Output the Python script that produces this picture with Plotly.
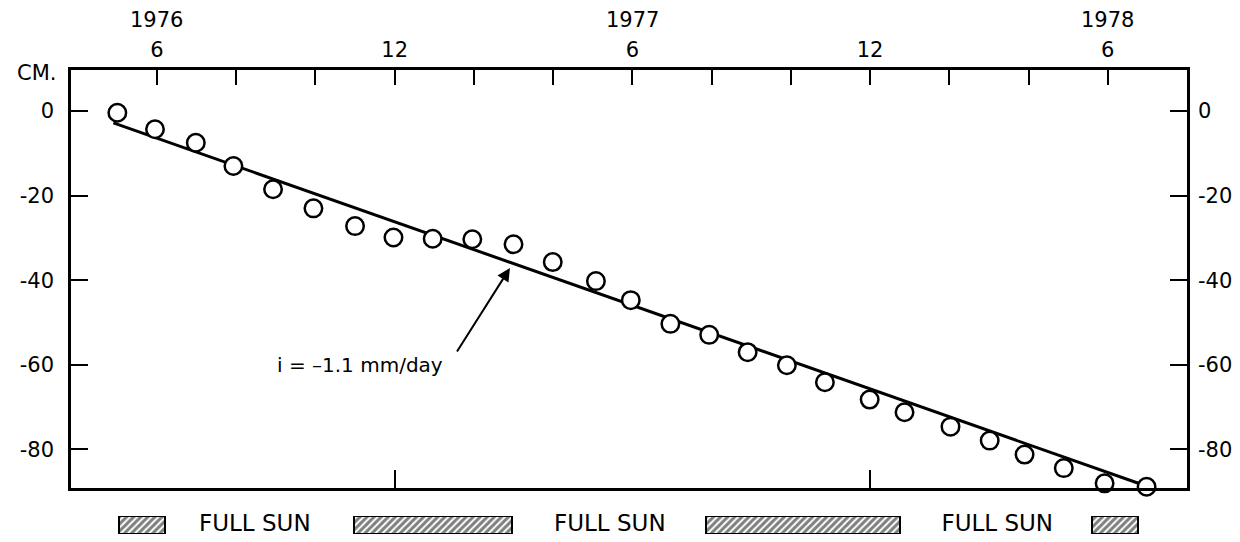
import plotly.graph_objects as go

# ---- data (x in months counted from Jan 1976 = 1; y in cm) ----
obs_month = [5.0, 5.95, 6.98, 7.93, 8.93, 9.95, 11.0, 11.97, 12.96, 13.96, 15.0, 15.99,
             17.08, 17.96, 18.96, 19.94, 20.91, 21.9, 22.86, 23.99, 24.87, 26.03, 27.02,
             27.9, 28.89, 29.92, 30.98]
obs_cm = [-0.4, -4.3, -7.5, -13.0, -18.5, -23.0, -27.2, -29.9, -30.2, -30.3, -31.5, -35.7,
          -40.2, -44.7, -50.3, -52.9, -57.0, -60.1, -64.1, -68.2, -71.2, -74.6, -77.9,
          -81.2, -84.4, -88.0, -88.8]
fit_month = [4.9, 30.9]
fit_cm = [-2.8, -88.4]

top_tickvals = [6, 8, 10, 12, 14, 16, 18, 20, 22, 24, 26, 28, 30]
top_ticktext = ["6", "", "", "12", "", "", "6", "", "", "12", "", "", "6"]
year_month = [6, 18, 30]
year_labels = ["1976", "1977", "1978"]
bottom_tickvals = [12, 24]
y_tickvals = [0, -20, -40, -60, -80]
y_ticktext = ["0", "-20", "-40", "-60", "-80"]

shade_start = [5.04, 10.97, 19.86, 29.60]
shade_end = [6.20, 14.96, 24.75, 30.76]
sun_month = [8.47, 17.43, 27.21]
sun_labels = ["FULL SUN", "FULL SUN", "FULL SUN"]

x_range = [3.83, 32.0]
y_range = [-89.2, 9.7]

FONT = "DejaVu Sans"
FS = 21

fig = go.Figure()

fig.add_trace(go.Scatter(x=fit_month, y=fit_cm, mode="lines",
                         line=dict(color="black", width=3), showlegend=False))
fig.add_trace(go.Scatter(x=obs_month, y=obs_cm, mode="markers", cliponaxis=False,
                         marker=dict(symbol="circle", size=17.5, color="white",
                                     line=dict(color="black", width=2.5)),
                         showlegend=False))

# hatched shade bands
fig.add_trace(go.Bar(x=[(s + e) / 2 for s, e in zip(shade_start, shade_end)],
                     width=[e - s for s, e in zip(shade_start, shade_end)],
                     y=[1] * len(shade_start), base=0,
                     xaxis="x", yaxis="y3",
                     marker=dict(color="white", line=dict(color="black", width=2),
                                 pattern=dict(shape="/", fgcolor="black", bgcolor="white",
                                              size=5, solidity=0.6)),
                     showlegend=False))
fig.add_trace(go.Scatter(x=sun_month, y=[0.5] * len(sun_month), text=sun_labels,
                         mode="text", xaxis="x", yaxis="y3", cliponaxis=False,
                         textfont=dict(family=FONT, size=23, color="black"),
                         showlegend=False))

PLOT_TOP, PLOT_BOT = 70, 540
H = PLOT_BOT - PLOT_TOP


def py(pix):
    return (PLOT_BOT - pix) / H


fig.update_layout(
    width=1240, height=542,
    margin=dict(l=71, r=53, t=PLOT_TOP, b=542 - PLOT_BOT),
    paper_bgcolor="white", plot_bgcolor="white",
    font=dict(family=FONT, size=FS, color="black"),
    xaxis=dict(range=x_range, side="top", anchor="y", showline=True, linecolor="black",
               linewidth=2.5, mirror=True, tickmode="array", tickvals=top_tickvals,
               ticktext=top_ticktext, ticks="inside", ticklen=15, tickwidth=2,
               tickcolor="black", showgrid=False, zeroline=False, ticklabelstandoff=2,
               tickfont=dict(family=FONT, size=FS, color="black")),
    xaxis2=dict(range=x_range, overlaying="x", side="bottom", anchor="y",
                tickmode="array", tickvals=bottom_tickvals, ticks="inside", ticklen=18,
                tickwidth=2, tickcolor="black", showticklabels=False, showgrid=False,
                zeroline=False, showline=False),
    yaxis=dict(range=y_range, domain=[py(488.4), 1], anchor="x", showline=True,
               linecolor="black", linewidth=2.5, tickmode="array", tickvals=y_tickvals,
               ticktext=y_ticktext, ticks="inside", ticklen=17, tickwidth=2,
               tickcolor="black", showgrid=False, zeroline=False, ticklabelstandoff=10,
               tickfont=dict(family=FONT, size=FS, color="black")),
    yaxis2=dict(range=y_range, overlaying="y", side="right", showline=True,
                linecolor="black", linewidth=2.5, tickmode="array", tickvals=y_tickvals,
                ticktext=y_ticktext, ticks="inside", ticklen=17, tickwidth=2,
                tickcolor="black", showgrid=False, zeroline=False, ticklabelstandoff=4,
                tickfont=dict(family=FONT, size=FS, color="black")),
    yaxis3=dict(range=[0, 1], domain=[py(534), py(516)], visible=False, fixedrange=True),
    bargap=0,
)

# dummy trace so yaxis2 / xaxis2 render
fig.add_trace(go.Scatter(x=[None], y=[None], xaxis="x2", yaxis="y2", showlegend=False))

for m, lab in zip(year_month, year_labels):
    fig.add_annotation(x=m, xref="x", y=py(20), yref="paper", yanchor="middle",
                       text=lab, showarrow=False,
                       font=dict(family=FONT, size=FS, color="black"))

fig.add_annotation(x=-13 / 1116, xref="paper", xanchor="right", y=py(73), yref="paper",
                   yanchor="middle", text="CM.", showarrow=False,
                   font=dict(family=FONT, size=FS, color="black"))

fig.add_annotation(x=11.12, y=-60.0, xref="x", yref="y", text="i = \u20131.1 mm/day",
                   showarrow=False, font=dict(family=FONT, size=20, color="black"))
fig.add_annotation(x=14.91, y=-37.1, xref="x", yref="y", ax=13.55, ay=-57.2,
                   axref="x", ayref="y", text="", showarrow=True, arrowhead=2,
                   arrowsize=1.3, arrowwidth=2, arrowcolor="black", standoff=0)

fig.write_html("out.html")
